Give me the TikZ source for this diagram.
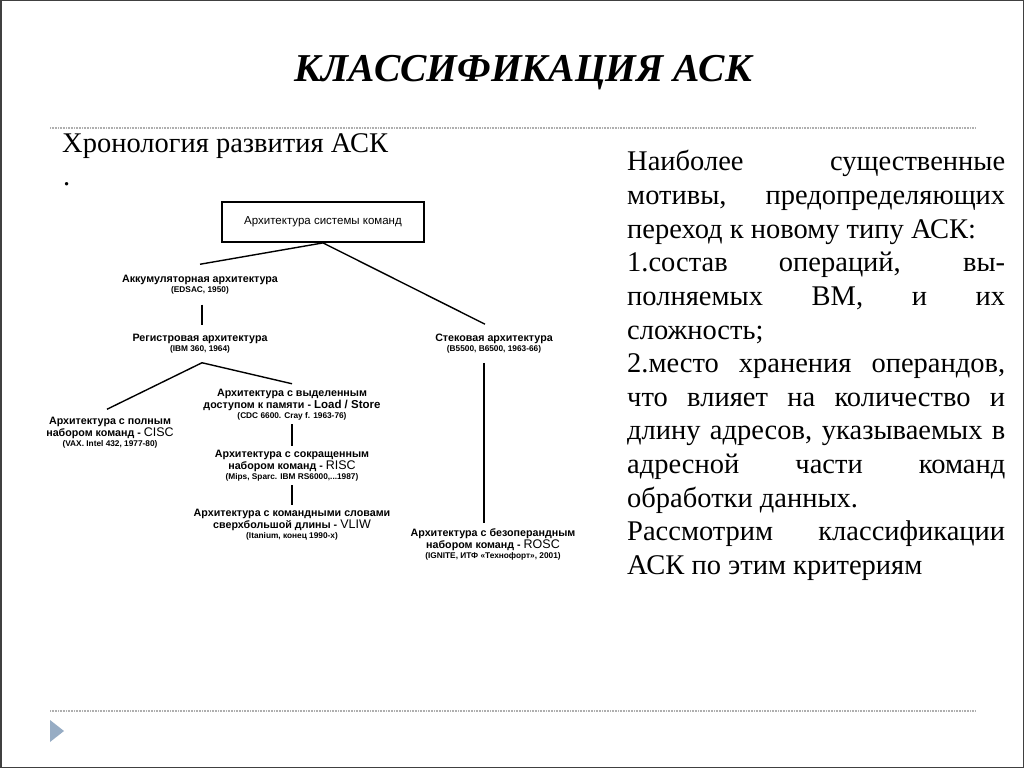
\documentclass[tikz,border=0pt]{standalone}
\usepackage{fontspec}
\setmainfont{Liberation Serif}
\newfontfamily\arialf{Liberation Sans}
\usetikzlibrary{calc}
\definecolor{rulegray}{RGB}{175,175,175}
\definecolor{triblue}{RGB}{150,172,196}
\tikzset{
  rtext/.style={anchor=base west, inner sep=0pt, font=\fontsize{28.5}{32}\selectfont},
  bl/.style={inner sep=0pt, align=center, font=\arialf\bfseries\fontsize{10.7}{12}\selectfont},
  conn/.style={line width=1.4pt, black},
  dotrule/.style={line width=1.6pt, rulegray, dash pattern=on 0.8pt off 0.8pt},
}
\newcommand{\sm}[1]{{\fontsize{8.3}{9}\selectfont #1}}
\newcommand{\rg}[1]{{\mdseries\fontsize{12.5}{12}\selectfont #1}}
\newcommand{\jl}[1]{\makebox[378pt][s]{#1}}
\begin{document}
\begin{tikzpicture}[x=1pt,y=-1pt]
\useasboundingbox (0,0) rectangle (1024,768);
\fill[white] (0,0) rectangle (1024,768);
\draw[line width=1.5pt, black!75] (0.75,0.75) rectangle (1023.25,767.25);
% title
\node[anchor=base, inner sep=0pt, font=\bfseries\itshape\fontsize{40}{44}\selectfont] (title) at (523.5,81) {\resizebox{457pt}{!}{КЛАССИФИКАЦИЯ АСК}};
% rules
\coordinate (ra) at (50,128); \coordinate (rb) at (975,128);
\coordinate (rc) at (50,711); \coordinate (rd) at (975,711);
\draw[dotrule] (ra) -- (rb);
\draw[dotrule] (rc) -- (rd);
\fill[triblue] (50,720) -- (64,731) -- (50,742) -- cycle;
% left heading
\node[rtext] (hl) at (62,152) {Хронология развития АСК};
\node[rtext] (hdot) at (63,185) {.};
% right text
\node[rtext] (r1) at (627,170) {\jl{Наиболее существенные}};
\node[rtext] (r2) at (627,204) {\jl{мотивы, предопределяющих}};
\node[rtext] (r3) at (627,238) {переход к новому типу АСК:};
\node[rtext] (r4) at (627,271) {\jl{1.состав операций, вы-}};
\node[rtext] (r5) at (627,305) {\jl{полняемых ВМ, и их}};
\node[rtext] (r6) at (627,339) {сложность;};
\node[rtext] (r7) at (627,372) {\jl{2.место хранения операндов,}};
\node[rtext] (r8) at (627,406) {\jl{что влияет на количество и}};
\node[rtext] (r9) at (627,439) {\jl{длину адресов, указываемых в}};
\node[rtext] (r10) at (627,473) {\jl{адресной части команд}};
\node[rtext] (r11) at (627,507) {обработки данных.};
\node[rtext] (r12) at (627,540) {\jl{Рассмотрим классификации}};
\node[rtext] (r13) at (627,574) {АСК по этим критериям};
% diagram
\node[draw, line width=1.8pt, minimum width=202pt, minimum height=40pt, inner sep=0pt, font=\arialf\fontsize{11.5}{12}\selectfont] (box) at (323,222) {Архитектура системы команд};
\node[bl] (acc) at (200,285) {Аккумуляторная архитектура\\[-2pt]\sm{(EDSAC, 1950)}};
\node[bl] (reg) at (200,344) {Регистровая архитектура\\[-2pt]\sm{(IBM 360, 1964)}};
\node[bl] (stk) at (494,344) {Стековая архитектура\\[-2pt]\sm{(B5500, B6500, 1963-66)}};
\node[bl] (cisc) at (110,433) {Архитектура с полным\\набором команд - \rg{CISC}\\[-2pt]\sm{(VAX. Intel 432, 1977-80)}};
\node[bl] (ls) at (292,404.5) {Архитектура с выделенным\\доступом к памяти - \rg{\bfseries\fontsize{11.5}{12}\selectfont Load / Store}\\[-2pt]\sm{(CDC 6600. Cray f. 1963-76)}};
\node[bl] (risc) at (292,465.5) {Архитектура с сокращенным\\набором команд - \rg{RISC}\\[-2pt]\sm{(Mips, Sparc. IBM RS6000,...1987)}};
\node[bl] (vliw) at (292,524.5) {Архитектура с командными словами\\сверхбольшой длины - \rg{VLIW}\\[-2pt]\sm{(Itanium, конец 1990-х)}};
\node[bl] (rosc) at (493,544) {Архитектура с безоперандным\\набором команд - \rg{ROSC}\\[-2pt]\sm{(IGNITE, ИТФ «Технофорт», 2001)}};
% connectors
\draw[conn] (box.south) -- ([yshift=11pt]acc.north);
\draw[conn] (box.south) -- ([xshift=-9pt,yshift=10pt]stk.north);
\draw[conn, shorten <=10pt, shorten >=9pt] ([xshift=2pt]acc.south) -- ([xshift=2pt]reg.north);
\draw[conn] ([xshift=2pt,yshift=-9pt]reg.south) -- ([xshift=-3pt,yshift=8pt]cisc.north);
\draw[conn] ([xshift=2pt,yshift=-9pt]reg.south) -- ([yshift=5pt]ls.north);
\draw[conn, shorten <=4pt, shorten >=4pt] (ls.south) -- (risc.north);
\draw[conn, shorten <=4pt, shorten >=4pt] (risc.south) -- (vliw.north);
\draw[conn, shorten <=9pt, shorten >=5pt] ([xshift=-10pt]stk.south) -- ([xshift=-9pt]rosc.north);
\end{tikzpicture}
\end{document}
